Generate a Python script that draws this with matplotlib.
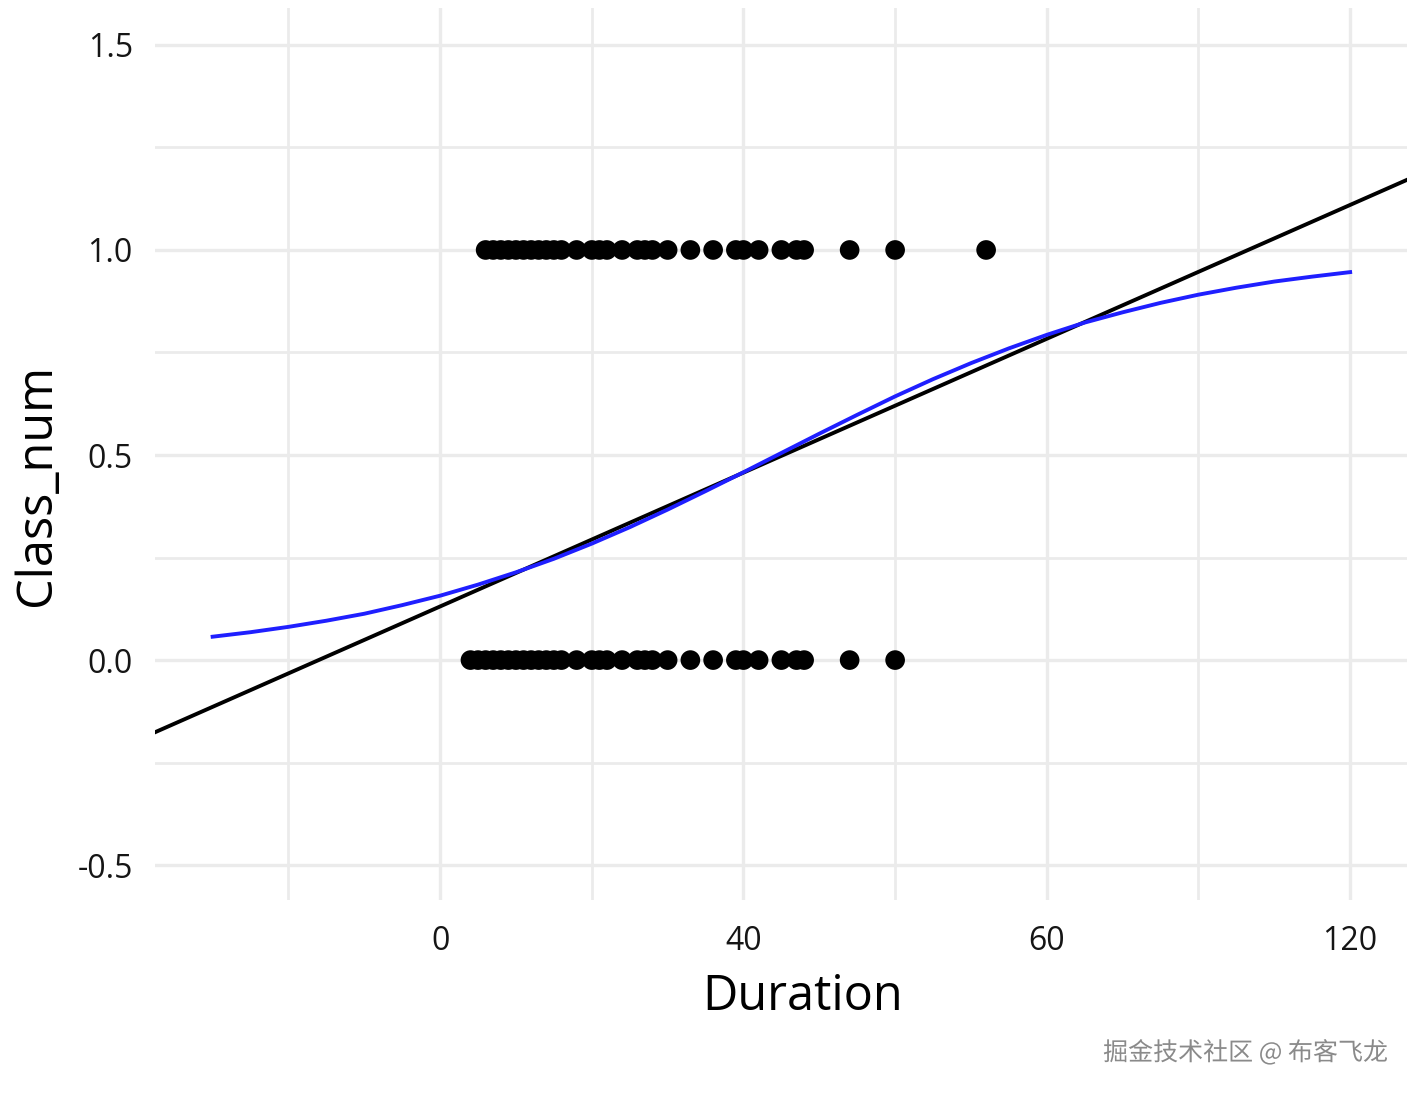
import matplotlib
matplotlib.use("Agg")
import matplotlib.pyplot as plt
import matplotlib.patheffects as pe

dur_class1 = [6, 7, 8, 9, 10, 11, 12, 13, 14, 15, 16, 18, 20, 21, 22, 24, 26, 27,
              28, 30, 33, 36, 39, 40, 42, 45, 47, 48, 54, 60, 72]
dur_class0 = [4, 5, 6, 7, 8, 9, 10, 11, 12, 13, 14, 15, 16, 18, 20, 21, 22, 24,
              26, 27, 28, 30, 33, 36, 39, 40, 42, 45, 47, 48, 54, 60]

# linear fit (black), read at the panel edges
lm_x = [-37.6, 127.5]
lm_y = [-0.176, 1.171]

# logistic fit (blue), read every 5 units
glm_x = [-30, -25, -20, -15, -10, -5, 0, 5, 10, 15, 20, 25, 30, 35, 40, 45,
         50, 55, 60, 65, 70, 75, 80, 85, 90, 95, 100, 105, 110, 115, 120]
glm_y = [0.057, 0.068, 0.081, 0.096, 0.113, 0.134, 0.157, 0.184, 0.214, 0.247,
         0.284, 0.324, 0.367, 0.412, 0.458, 0.505, 0.552, 0.598, 0.643, 0.685,
         0.724, 0.760, 0.793, 0.823, 0.848, 0.871, 0.891, 0.908, 0.923, 0.935,
         0.946]

x_ticks = [0, 40, 80, 120]
x_labels = ["0", "40", "60", "120"]
x_minor = [-20, 20, 60, 100]
y_ticks = [-0.5, 0.0, 0.5, 1.0, 1.5]
y_labels = ["-0.5", "0.0", "0.5", "1.0", "1.5"]
y_minor = [-0.25, 0.25, 0.75, 1.25]

plt.rcParams['font.family'] = ['Open Sans', 'DejaVu Sans']

fig = plt.figure(figsize=(14.16, 10.96), dpi=100)
ax = fig.add_axes([155/1416, 1 - 900/1096, 1252/1416, 892/1096])

ax.set_xlim(-37.6, 127.5)
ax.set_ylim(-0.585, 1.590)

for s in ax.spines.values():
    s.set_visible(False)

ax.set_xticks(x_ticks)
ax.set_xticklabels(x_labels)
ax.set_xticks(x_minor, minor=True)
ax.set_yticks(y_ticks)
ax.set_yticklabels(y_labels)
ax.set_yticks(y_minor, minor=True)
ax.tick_params(which='both', length=0)
ax.tick_params(axis='x', pad=18, labelsize=23, labelcolor='#151515')
ax.tick_params(axis='y', pad=16, labelsize=23, labelcolor='#151515')
ax.grid(which='major', color='#ebebeb', lw=2.4)
ax.grid(which='minor', color='#ebebeb', lw=2.0)
ax.set_axisbelow(True)

ax.scatter(dur_class1, [1.0] * len(dur_class1), s=200, color='black', edgecolors='none', zorder=3)
ax.scatter(dur_class0, [0.0] * len(dur_class0), s=200, color='black', edgecolors='none', zorder=3)

ax.plot(lm_x, lm_y, color='black', lw=2.8, zorder=4)
ax.plot(glm_x, glm_y, color='#1f1fff', lw=2.8, zorder=5)

ax.set_xlabel("Duration", fontsize=35, color='black')
ax.xaxis.set_label_coords((803 - 155) / 1252, -(972 - 900) / 892)
ax.set_ylabel("Class_num", fontsize=35, color='black')
ax.yaxis.set_label_coords(-(155 - 62) / 1252, (900 - 485) / 892)

fig.text(1388/1416, 1 - 1053/1096, "掘金技术社区 @ 布客飞龙", ha='right', va='center',
         fontsize=18, color='#8a8a8a', family=['Noto Sans CJK SC', 'DejaVu Sans'],
         path_effects=[pe.withStroke(linewidth=2, foreground='white')])

fig.savefig("out.png", dpi=100, facecolor='white')
